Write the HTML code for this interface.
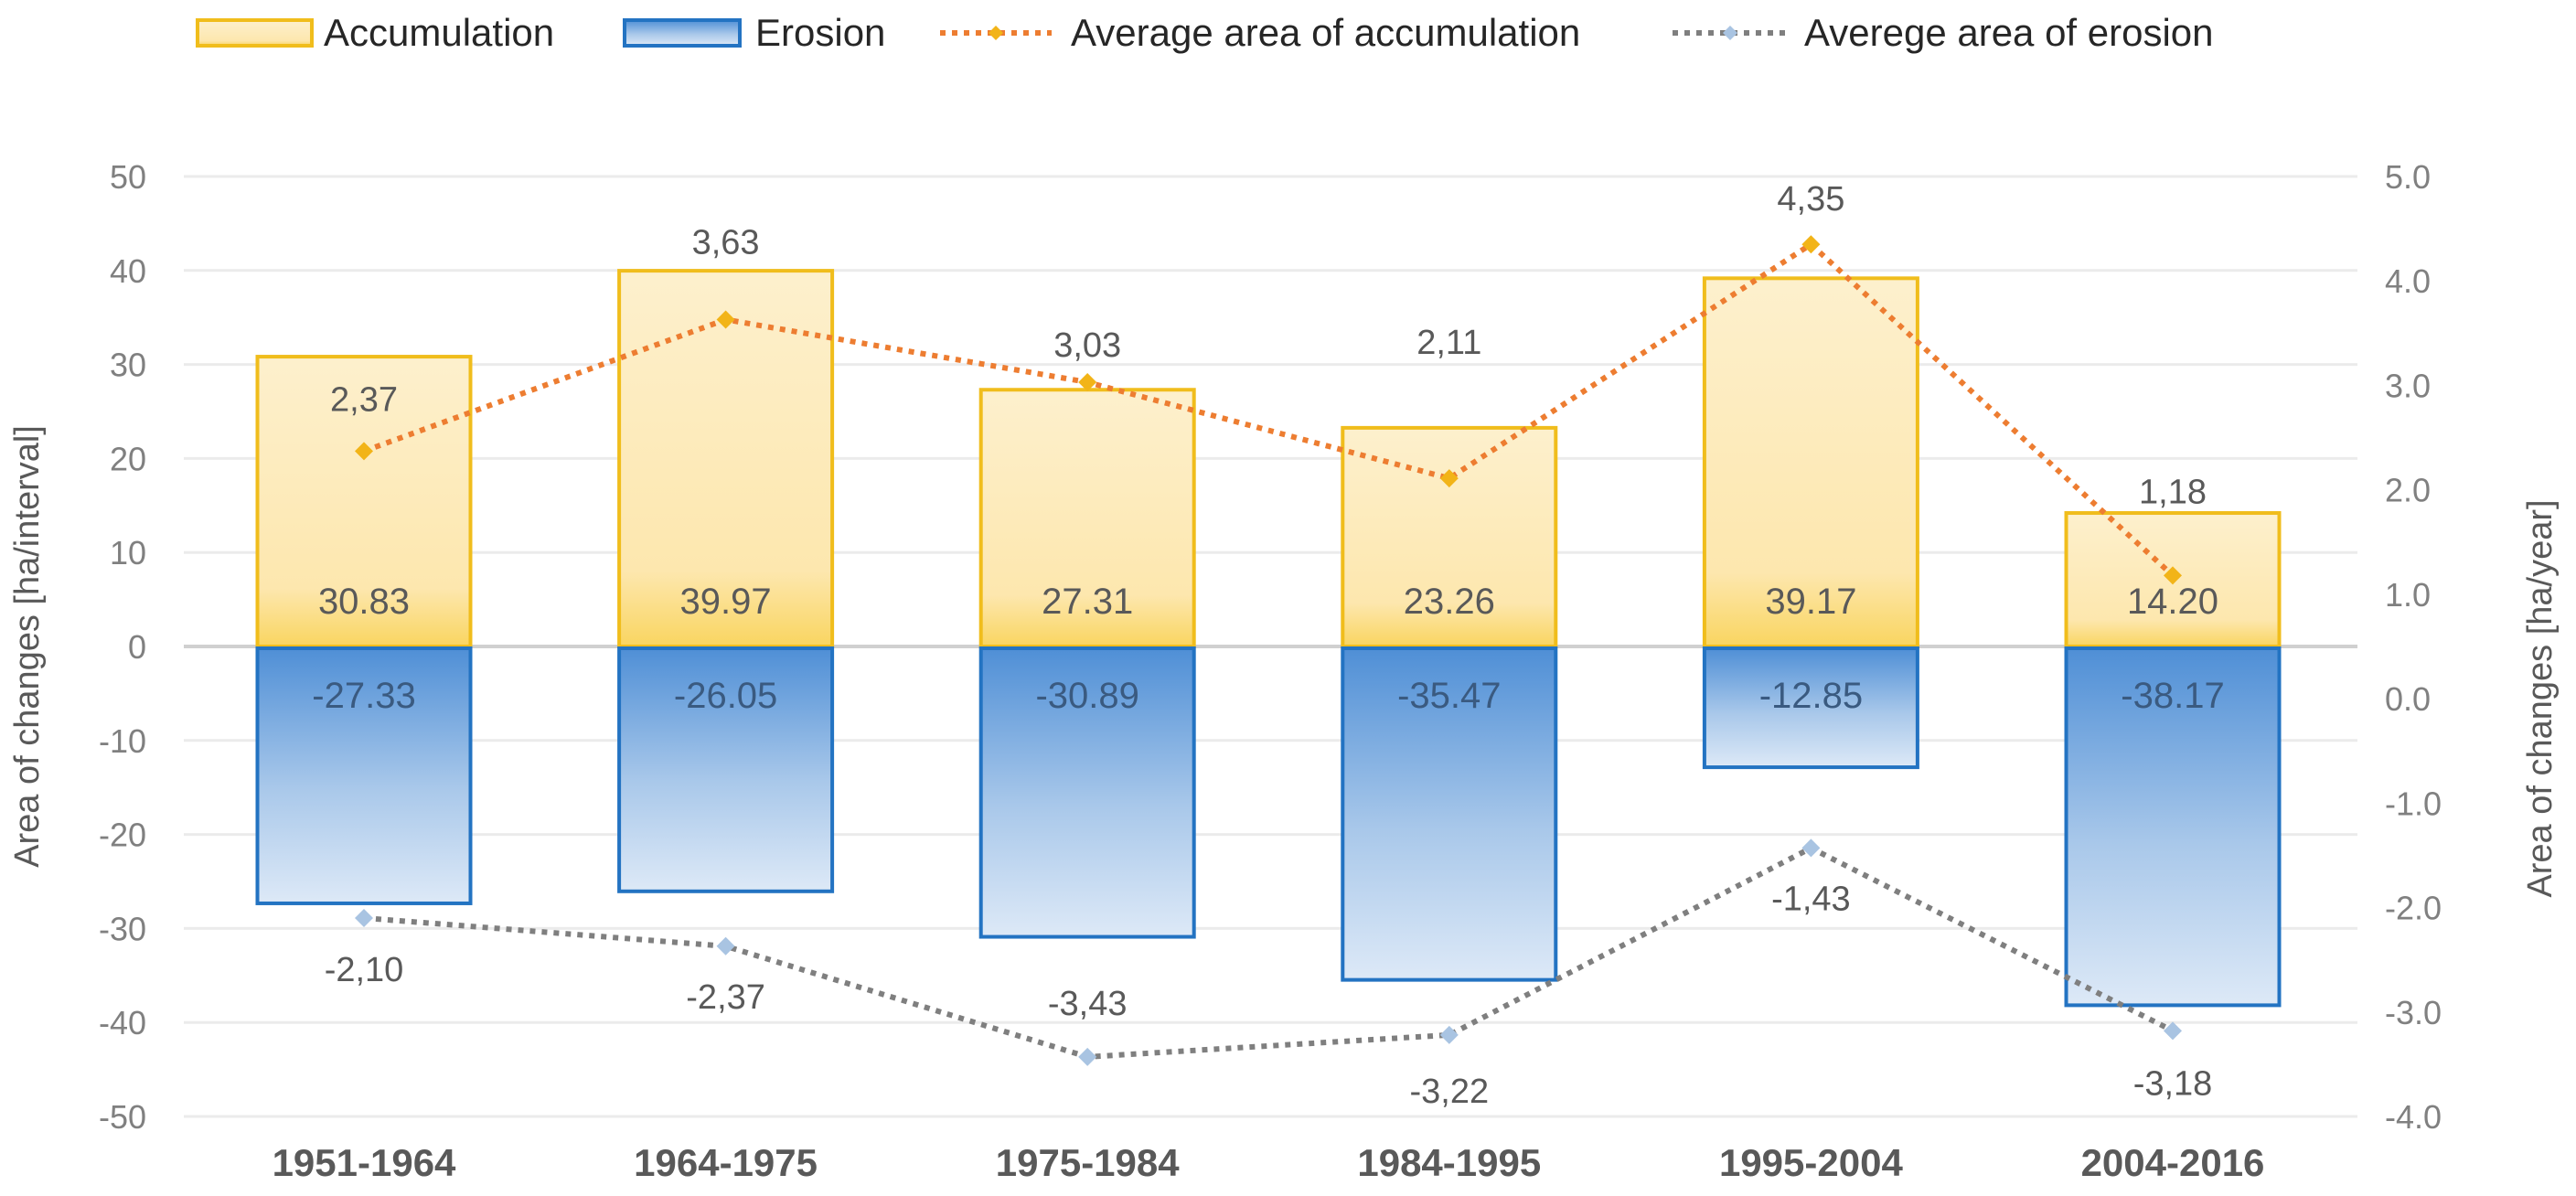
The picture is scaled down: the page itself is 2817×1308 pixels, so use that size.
<!DOCTYPE html>
<html><head><meta charset="utf-8"><style>
html,body{margin:0;padding:0;background:#fff;}
svg{display:block;font-family:"Liberation Sans",Arial,sans-serif;}
</style></head><body>
<svg id="chart" width="2817" height="1308" viewBox="0 0 2817 1308" xmlns="http://www.w3.org/2000/svg">
<defs>
<linearGradient id="gAcc" x1="0" y1="0" x2="0" y2="1">
<stop offset="0" stop-color="#fdf0cd"/><stop offset="0.8" stop-color="#fde7ae"/><stop offset="1" stop-color="#f9d560"/>
</linearGradient>
<linearGradient id="gEro" x1="0" y1="0" x2="0" y2="1">
<stop offset="0" stop-color="#4f8fd6"/><stop offset="0.55" stop-color="#a9c8ea"/><stop offset="1" stop-color="#dde9f7"/>
</linearGradient>
</defs>
<g>
<rect x="216" y="22" width="125" height="28" fill="url(#gAcc)" stroke="#f0bd1c" stroke-width="4"/>
<text x="354" y="50" font-size="42" fill="#262626">Accumulation</text>
<rect x="683" y="22" width="126" height="28" fill="url(#gEro)" stroke="#2373c2" stroke-width="4"/>
<text x="826" y="50" font-size="42" fill="#262626">Erosion</text>
<line x1="1028" y1="36" x2="1150" y2="36" stroke="#ed7d31" stroke-width="6" stroke-dasharray="6,7"/>
<path d="M1089 28 L1097 36 L1089 44 L1081 36Z" fill="#f2b418"/>
<text x="1171" y="50" font-size="42" fill="#262626">Average area of accumulation</text>
<line x1="1829" y1="36" x2="1955" y2="36" stroke="#7f7f7f" stroke-width="6" stroke-dasharray="6,7"/>
<path d="M1892 28 L1900 36 L1892 44 L1884 36Z" fill="#a9c4e2"/>
<text x="1973" y="50" font-size="42" fill="#262626">Averege area of erosion</text>
</g>
<g id="grid"></g><g id="bars"></g><g id="lines"></g><g id="labels"></g>
<text transform="translate(42,707) rotate(-90)" text-anchor="middle" font-size="38" fill="#595959">Area of changes [ha/interval]</text>
<text transform="translate(2790,764) rotate(-90)" text-anchor="middle" font-size="38" fill="#595959">Area of changes [ha/year]</text>
</svg>
<script>
const categories=["1951-1964","1964-1975","1975-1984","1984-1995","1995-2004","2004-2016"];
const accumulation=[30.83,39.97,27.31,23.26,39.17,14.20];
const erosion=[-27.33,-26.05,-30.89,-35.47,-12.85,-38.17];
const avgAcc=[2.37,3.63,3.03,2.11,4.35,1.18];
const avgEro=[-2.10,-2.37,-3.43,-3.22,-1.43,-3.18];
const leftTicks=[50,40,30,20,10,0,-10,-20,-30,-40,-50];
const rightTicks=[5,4,3,2,1,0,-1,-2,-3,-4];
const NS="http://www.w3.org/2000/svg";
const yL=v=>707-v*10.28;
const yR=v=>193+(5-v)*114.22;
const xC=i=>398+i*395.6;
const BW=233;
function mk(tag,attrs,parent,txt){const e=document.createElementNS(NS,tag);for(const k in attrs)e.setAttribute(k,attrs[k]);if(txt!==undefined)e.textContent=txt;document.getElementById(parent).appendChild(e);return e;}
leftTicks.forEach(v=>{
  const g=mk('line',{x1:201,x2:2578,y1:yL(v),y2:yL(v),stroke:v===0?'#d0d0d0':'#ebebeb','stroke-width':v===0?4:3},'grid');
  
  
  const t=mk('text',{x:160,y:yL(v)+13,'text-anchor':'end','font-size':36,fill:'#808080'},'grid',String(v));
  
  
});
rightTicks.forEach(v=>{
  const t=mk('text',{x:2608,y:yR(v)+13,'font-size':36,fill:'#808080'},'grid',v.toFixed(1));
  
  
});
categories.forEach((c,i)=>{
  const x=xC(i)-BW/2;
  const a=mk('rect',{x:x,y:yL(accumulation[i]),width:BW,height:yL(0)-yL(accumulation[i]),fill:'url(#gAcc)',stroke:'#f0bd1c','stroke-width':4},'bars');
  
  
  const e=mk('rect',{x:x,y:yL(0)+2,width:BW,height:yL(erosion[i])-yL(0)-2,fill:'url(#gEro)',stroke:'#2373c2','stroke-width':4},'bars');
  
  
  const av=mk('text',{x:xC(i),y:671,'text-anchor':'middle','font-size':40,fill:'#595959'},'labels',accumulation[i].toFixed(2));
  
  
  const ev=mk('text',{x:xC(i),y:774,'text-anchor':'middle','font-size':40,fill:'#3a5a80'},'labels',erosion[i].toFixed(2));
  
  
  const cl=mk('text',{x:xC(i),y:1286,'text-anchor':'middle','font-size':42,'font-weight':'bold',fill:'#595959'},'labels',c);
  
  
});
function series(vals,color,mcolor,offs,name){
  const d=vals.map((v,i)=>(i?'L':'M')+xC(i)+' '+yR(v)).join(' ');
  const p=mk('path',{d:d,fill:'none',stroke:color,'stroke-width':6,'stroke-dasharray':'6,7'},'lines');
  
  
  vals.forEach((v,i)=>{
    const x=xC(i),y=yR(v);
    const m=mk('path',{d:`M${x} ${y-10} L${x+10} ${y} L${x} ${y+10} L${x-10} ${y}Z`,fill:mcolor},'lines');
    
    
    const t=mk('text',{x:x,y:y+offs[i]+14,'text-anchor':'middle','font-size':38,fill:'#595959'},'labels',v.toFixed(2).replace('.',','));
    
    
  });
}
series(avgAcc,'#ed7d31','#f2b418',[-58,-86,-42,-150,-51,-93],'avg-accumulation');
series(avgEro,'#7f7f7f','#a9c4e2',[55,54,-60,60,54,56],'avg-erosion');
</script>
</body></html>
